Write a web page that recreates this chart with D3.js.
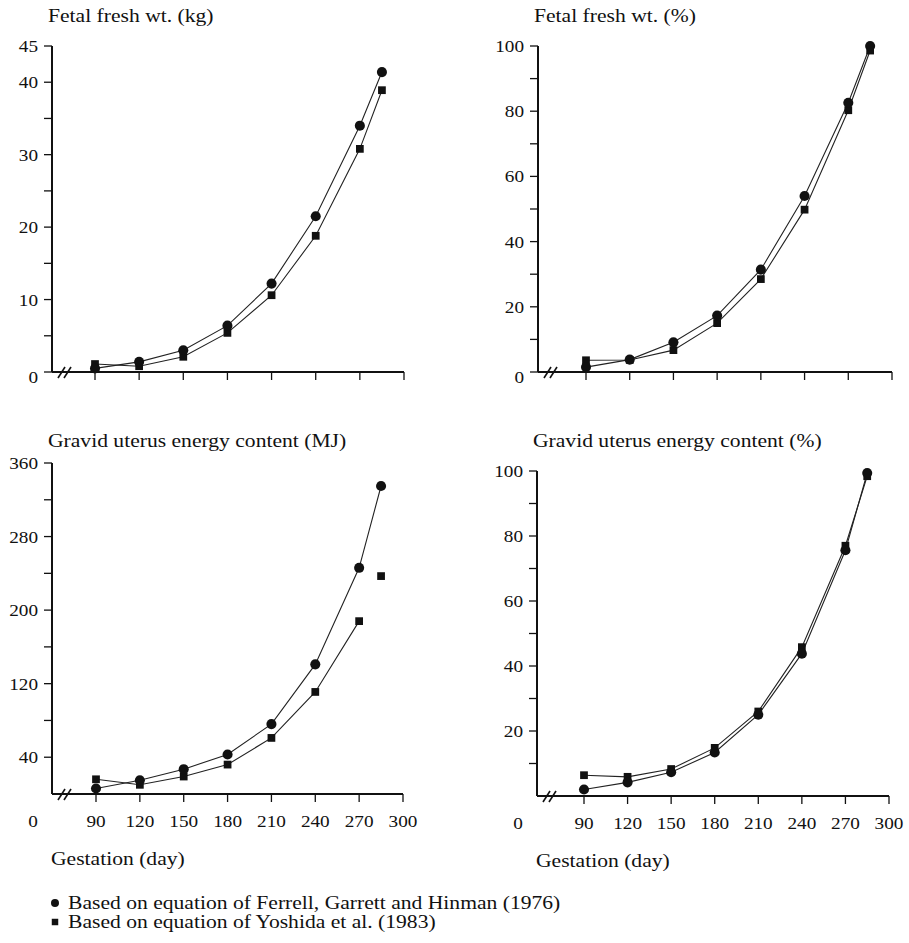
<!DOCTYPE html>
<html>
<head>
<meta charset="utf-8">
<script src="https://cdn.jsdelivr.net/npm/d3@7"></script>
<style>
  body { margin: 0; background: #fff; }
  text { font-family: "Liberation Serif", "Times New Roman", serif; fill: #111; }
</style>
</head>
<body>
<div id="chart"></div>
<script>
////////////////////////////////////
//////////////// data //////////////
////////////////////////////////////
const days = [90, 120, 150, 180, 210, 240, 270, 285]
const xTicks = [90, 120, 150, 180, 210, 240, 270, 300]

// fetal fresh weight (kg)
const ferrellKg = [0.5, 1.4, 3.0, 6.4, 12.2, 21.5, 34.0, 41.4]
const yoshidaKg = [1.1, 0.8, 2.1, 5.4, 10.6, 18.8, 30.8, 38.9]
// fetal fresh weight (% of term)
const ferrellFetalPct = [1.5, 3.8, 9.1, 17.3, 31.4, 54.0, 82.6, 100]
const yoshidaFetalPct = [3.6, 3.7, 6.7, 15.0, 28.5, 49.8, 80.3, 98.6]
// gravid uterus energy (MJ)
const ferrellMJ = [6, 15, 27, 43, 76, 141, 246, 335]
const yoshidaMJ = [16, 10, 19, 32, 61, 111, 188, 237]
// gravid uterus energy (% of term)
const ferrellUterusPct = [2.0, 4.2, 7.3, 13.4, 25.0, 43.8, 75.6, 99.4]
const yoshidaUterusPct = [6.4, 5.9, 8.3, 14.8, 26.0, 45.8, 77.0, 98.4]

const kgTicks = [0, 10, 20, 30, 40, 45]
const kgMinor = [5, 15, 25, 35]
const pctTicks = [0, 20, 40, 60, 80, 100]
const pctMinor = [10, 30, 50, 70, 90]
const mjTicks = [40, 120, 200, 280, 360]
const mjMinor = [80, 160, 240, 320]

const titles = ['Fetal fresh wt. (kg)', 'Fetal fresh wt. (%)', 'Gravid uterus energy content (MJ)', 'Gravid uterus energy content (%)']
const legendNames = ['Based on equation of Ferrell, Garrett and Hinman (1976)', 'Based on equation of Yoshida et al. (1983)']
const xTitle = 'Gestation (day)'

// panels (yoshidaJoin = how many Yoshida points are joined by the line)
const panels = [
    { title: titles[0], ferrell: ferrellKg, yoshida: yoshidaKg, max: 45, ticks: kgTicks, minor: kgMinor, yoshidaJoin: 8,
      axisX: 52, x0: 95, x1: 404, y0: 372, y1: 46, titleY: 22, bottomRow: false },
    { title: titles[1], ferrell: ferrellFetalPct, yoshida: yoshidaFetalPct, max: 100, ticks: pctTicks, minor: pctMinor, yoshidaJoin: 8,
      axisX: 538, x0: 586, x1: 892, y0: 372, y1: 46, titleY: 22, bottomRow: false },
    { title: titles[2], ferrell: ferrellMJ, yoshida: yoshidaMJ, max: 360, ticks: mjTicks, minor: mjMinor, yoshidaJoin: 7,
      axisX: 52, x0: 96, x1: 403, y0: 794, y1: 463, titleY: 447, bottomRow: true },
    { title: titles[3], ferrell: ferrellUterusPct, yoshida: yoshidaUterusPct, max: 100, ticks: pctTicks.slice(1), minor: pctMinor, yoshidaJoin: 8,
      axisX: 537, x0: 584, x1: 889, y0: 796, y1: 471, titleY: 447, bottomRow: true }
]

////////////////////////////////////
/////////////// svg ////////////////
////////////////////////////////////
const svgWidth = 909
const svgHeight = 943
const ink = '#111'
const stretch = 1.2   // the scanned type is wide

const svg = d3.select('#chart')
    .append('svg')
    .attr('width', svgWidth)
    .attr('height', svgHeight)

function addText(g, x, y, str, size, anchor) {
    return g.append('text')
        .attr('transform', `translate(${x},${y}) scale(${stretch},1)`)
        .attr('font-size', size)
        .attr('text-anchor', anchor || 'start')
        .text(str)
}

const circleSym = d3.symbol(d3.symbolCircle, 80)
const squareSym = d3.symbol(d3.symbolSquare, 60)

for (let p of panels) {
    const g = svg.append('g')

    const xScale = d3.scaleLinear().domain([90, 300]).range([p.x0, p.x1])
    const yScale = d3.scaleLinear().domain([0, p.max]).range([p.y0, p.y1])

    ////////////// axes //////////////
    g.append('line')
        .attr('x1', p.axisX).attr('x2', p.axisX)
        .attr('y1', p.y0).attr('y2', yScale(p.max))
        .attr('stroke', ink).attr('stroke-width', 2)

    g.append('line')
        .attr('x1', p.axisX).attr('x2', xScale(300))
        .attr('y1', p.y0).attr('y2', p.y0)
        .attr('stroke', ink).attr('stroke-width', 2)

    // axis break
    g.selectAll('.brk')
        .data([0, 6])
        .join('line')
        .attr('x1', d => p.axisX + 6 + d).attr('x2', d => p.axisX + 13 + d)
        .attr('y1', p.y0 + 6).attr('y2', p.y0 - 5)
        .attr('stroke', ink).attr('stroke-width', 1.6)

    g.selectAll('.ytick')
        .data(p.ticks.concat(p.minor))
        .join('line')
        .attr('x1', p.axisX - 8).attr('x2', p.axisX)
        .attr('y1', d => yScale(d)).attr('y2', d => yScale(d))
        .attr('stroke', ink).attr('stroke-width', 1.3)

    g.selectAll('.xtick')
        .data(xTicks)
        .join('line')
        .attr('x1', d => xScale(d)).attr('x2', d => xScale(d))
        .attr('y1', p.y0).attr('y2', p.y0 + 8)
        .attr('stroke', ink).attr('stroke-width', 1.3)

    for (let t of p.ticks) {
        addText(g, p.axisX - 14, yScale(t) + (t == 0 ? 11 : 6), t, 16, 'end')
    }

    if (p.bottomRow) {
        addText(g, p.axisX - 19, p.y0 + 33, 0, 16, 'middle')
        for (let t of xTicks) addText(g, xScale(t), p.y0 + 33, t, 16, 'middle')
        addText(g, p.axisX - 1, p.y0 + 71, xTitle, 18)
    }

    addText(g, p.axisX - 4, p.titleY, p.title, 18)

    ////////////// series //////////////
    const line = d3.line()
        .x((d, i) => xScale(days[i]))
        .y(d => yScale(d))

    g.append('path')
        .attr('d', line(p.ferrell))
        .attr('fill', 'none').attr('stroke', '#222').attr('stroke-width', 1.1)

    g.append('path')
        .attr('d', line(p.yoshida.slice(0, p.yoshidaJoin)))
        .attr('fill', 'none').attr('stroke', '#222').attr('stroke-width', 1.1)

    g.selectAll('.sq')
        .data(p.yoshida)
        .join('path')
        .attr('d', squareSym)
        .attr('transform', (d, i) => `translate(${xScale(days[i])},${yScale(d)})`)
        .attr('fill', ink)

    g.selectAll('.dot')
        .data(p.ferrell)
        .join('path')
        .attr('d', circleSym)
        .attr('transform', (d, i) => `translate(${xScale(days[i])},${yScale(d)})`)
        .attr('fill', ink)
}

////////////////////////////////////
////////////// legend //////////////
////////////////////////////////////
const legend = svg.append('g')

legend.append('path')
    .attr('d', d3.symbol(d3.symbolCircle, 50))
    .attr('transform', 'translate(55,903)')
    .attr('fill', ink)
legend.append('path')
    .attr('d', d3.symbol(d3.symbolSquare, 42))
    .attr('transform', 'translate(55,922)')
    .attr('fill', ink)

addText(legend, 68, 909, legendNames[0], 18)
addText(legend, 68, 928, legendNames[1], 18)
</script>
</body>
</html>
